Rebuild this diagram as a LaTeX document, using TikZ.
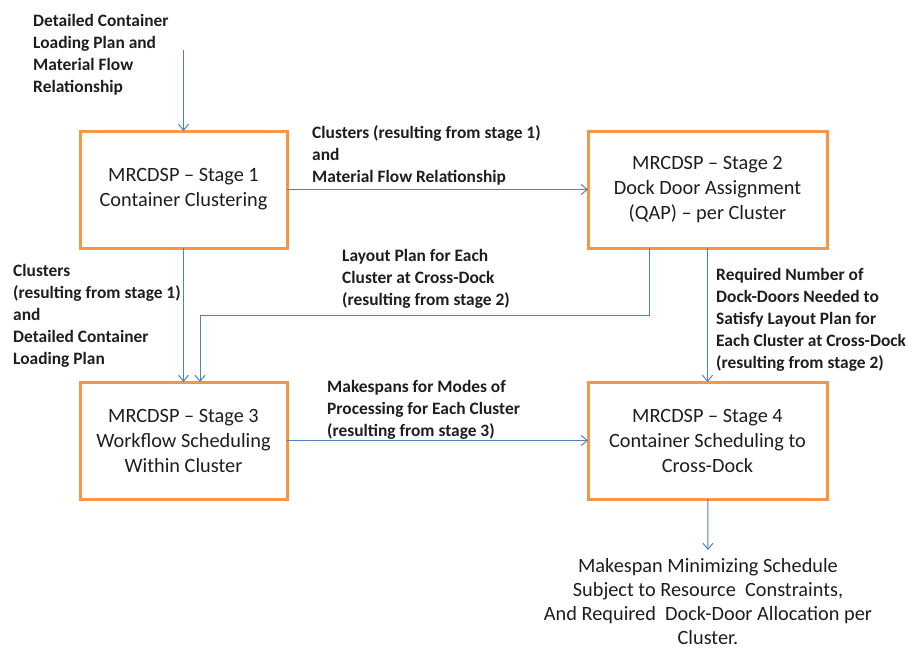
\documentclass[tikz,border=0pt]{standalone}
\usepackage{fontspec}
\setmainfont{Carlito}
\usetikzlibrary{arrows.meta,positioning}
\definecolor{stageorange}{RGB}{247,150,70}
\definecolor{flowblue}{RGB}{79,129,189}
\definecolor{textdark}{RGB}{30,30,30}

\begin{document}
\begin{tikzpicture}[
  x=1pt, y=1pt,
  font=\fontsize{20.3}{25}\selectfont,
  text=textdark,
  stage/.style={draw=stageorange, line width=3pt, fill=white, align=center,
    minimum width=207pt, minimum height=117pt, inner sep=0pt, outer sep=0pt},
  flow/.style={-{Straight Barb[length=6pt,width=10pt]}, draw=flowblue, line width=1pt},
  note/.style={font=\fontsize{17.4}{22}\selectfont\bfseries, align=left,
    anchor=north west, inner sep=0pt},
  result/.style={font=\fontsize{20.3}{24}\selectfont, align=center,
    anchor=north, inner sep=0pt}
]
\useasboundingbox (0,0) rectangle (912,-650);
% the four stages
\node[stage] (stage1) at (183.5,-189.5)
  {MRCDSP -- Stage 1\\Container Clustering};
\node[stage, minimum width=239pt, right=301pt of stage1] (stage2)
  {MRCDSP -- Stage 2\\Dock Door Assignment\\(QAP) -- per Cluster};
\node[stage, below=134pt of stage1] (stage3)
  {MRCDSP -- Stage 3\\Workflow Scheduling\\Within Cluster};
\node[stage, minimum width=239pt, below=134pt of stage2] (stage4)
  {MRCDSP -- Stage 4\\Container Scheduling to\\Cross-Dock};
% labels
\node[note] (input) at (33,-14)
  {Detailed Container\\Loading Plan and\\Material Flow\\Relationship};
\node[note] (n12) at (312,-125)
  {Clusters (resulting from stage 1)\\and\\Material Flow Relationship};
\node[note] (n23) at (342,-249)
  {Layout Plan for Each\\Cluster at Cross-Dock\\(resulting from stage 2)};
\node[note] (n13) at (13,-264)
  {Clusters\\(resulting from stage 1)\\and\\Detailed Container\\Loading Plan};
\node[note] (n24) at (716,-268)
  {Required Number of\\Dock-Doors Needed to\\Satisfy Layout Plan for\\Each Cluster at Cross-Dock\\(resulting from stage 2)};
\node[note] (n34) at (327,-380)
  {Makespans for Modes of\\Processing for Each Cluster\\(resulting from stage 3)};
\node[result] (output) at (708,-558)
  {Makespan Minimizing Schedule\\Subject to Resource\ \ Constraints,\\And Required\ \ Dock-Door Allocation per\\Cluster.};
% connectors
\coordinate (start) at (stage1.north |- 0,-50);
\coordinate (layout) at (200,-315);
\draw[flow] (start) -- (stage1.north);
\draw[flow] (stage1) -- (stage2);
\draw[flow] (stage1) -- (stage3);
\draw[flow] ([xshift=-58pt]stage2.south) |- (layout) -- (layout |- stage3.north);
\draw[flow] (stage2) -- (stage4);
\draw[flow] (stage3) -- (stage4);
\draw[flow, shorten >=8pt] (stage4) -- (output.north);
\end{tikzpicture}
\end{document}
